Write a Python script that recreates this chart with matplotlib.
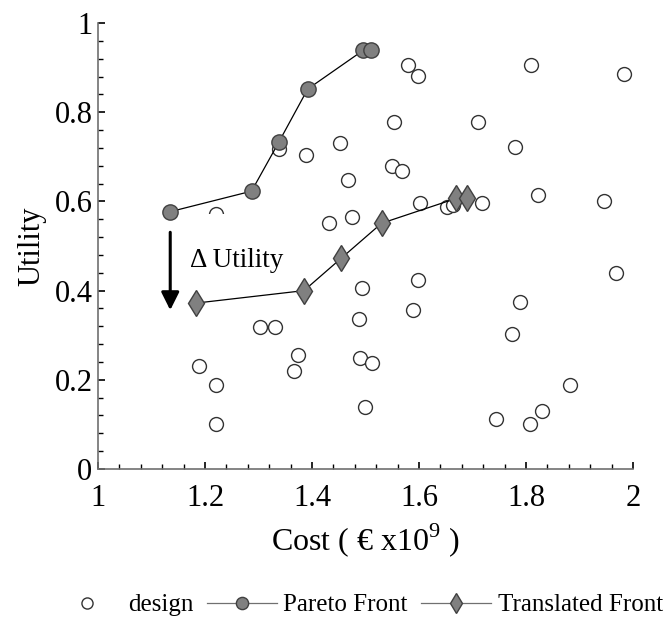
import matplotlib
matplotlib.use('Agg')
from matplotlib import pyplot as plt
from matplotlib.patches import Rectangle
from matplotlib.transforms import Bbox, TransformedBbox

plt.rcParams['font.family'] = ['Liberation Serif', 'DejaVu Serif']
plt.rcParams['mathtext.fontset'] = 'custom'
plt.rcParams['mathtext.rm'] = 'Liberation Serif'

##### DATA
design_cost = [1.221, 1.338, 1.388, 1.452, 1.468, 1.474, 1.432,
               1.579, 1.598, 1.810, 1.984, 1.553, 1.711, 1.779, 1.550, 1.569,
               1.601, 1.652, 1.664, 1.718, 1.823, 1.946,
               1.493, 1.487, 1.303, 1.331, 1.373, 1.366, 1.188, 1.221, 1.221,
               1.490, 1.512, 1.500,
               1.598, 1.588, 1.969, 1.788, 1.773, 1.883, 1.829, 1.807, 1.743]
design_util = [0.571, 0.717, 0.703, 0.732, 0.649, 0.566, 0.551,
               0.905, 0.882, 0.905, 0.885, 0.779, 0.779, 0.721, 0.680, 0.668,
               0.596, 0.588, 0.591, 0.596, 0.615, 0.600,
               0.405, 0.336, 0.318, 0.318, 0.256, 0.219, 0.230, 0.188, 0.100,
               0.249, 0.237, 0.139,
               0.424, 0.356, 0.440, 0.375, 0.302, 0.188, 0.130, 0.100, 0.112]

pareto_cost = [1.135, 1.287, 1.338, 1.392, 1.496, 1.510]
pareto_util = [0.577, 0.623, 0.733, 0.852, 0.939, 0.939]

trans_cost = [1.183, 1.385, 1.455, 1.530, 1.670, 1.690]
trans_util = [0.372, 0.400, 0.473, 0.551, 0.607, 0.607]

x_ticks = [1, 1.2, 1.4, 1.6, 1.8, 2]
x_labels = ['1', '1.2', '1.4', '1.6', '1.8', '2']
y_ticks = [0, 0.2, 0.4, 0.6, 0.8, 1]
y_labels = ['0', '0.2', '0.4', '0.6', '0.8', '1']
#########

fig = plt.figure(figsize=(6.64, 6.19), dpi=100)
ax = fig.add_axes([0.1476, 0.2423, 0.8057, 0.7205])

ax.plot(design_cost, design_util, linestyle='none', marker='o', markersize=10,
        markerfacecolor='white', markeredgecolor='#333333', markeredgewidth=1.0,
        label='design', zorder=2)

# white box behind the delta label (hides part of one design point, clips the label)
box = (1.16, 0.452, 0.18, 0.119)
ax.add_patch(Rectangle(box[:2], box[2], box[3], facecolor='white',
                       edgecolor='none', zorder=3))
txt = ax.text(1.172, 0.452, '\u0394 Utility', fontsize=19.5, va='baseline', ha='left', zorder=4)
txt.set_clip_box(TransformedBbox(Bbox.from_bounds(*box), ax.transData))

ax.annotate('', xy=(1.135, 0.35), xytext=(1.135, 0.537),
            arrowprops=dict(arrowstyle='-|>,head_width=0.54,head_length=1.08',
                            color='black', lw=2.2), zorder=4)

ax.plot(pareto_cost, pareto_util, color='black', linewidth=0.9, marker='o',
        markersize=11, markerfacecolor='#808080', markeredgecolor='#404040',
        markeredgewidth=1.0, label='Pareto Front', zorder=5)
ax.plot(trans_cost, trans_util, color='black', linewidth=0.9, marker='d',
        markersize=13, markerfacecolor='#808080', markeredgecolor='#404040',
        markeredgewidth=1.0, label='Translated Front', zorder=5)

ax.set_xlim(1, 2)
ax.set_ylim(0, 1)
ax.set_xticks(x_ticks)
ax.set_xticklabels(x_labels)
ax.set_yticks(y_ticks)
ax.set_yticklabels(y_labels)
ax.set_xticks([1 + 0.04 * i for i in range(26)], minor=True)
ax.set_yticks([0.04 * i for i in range(26)], minor=True)
ax.tick_params(which='both', direction='in', labelsize=22, color='black')
ax.tick_params(which='major', length=5, width=1.2)
ax.tick_params(which='minor', length=3.5, width=1.0)
ax.tick_params(axis='x', which='major', pad=11)
ax.tick_params(axis='y', which='major', pad=4)

for s in ['top', 'right']:
    ax.spines[s].set_visible(False)
for s in ['left', 'bottom']:
    ax.spines[s].set_color('#707070')
    ax.spines[s].set_linewidth(1.2)

ax.set_xlabel('Cost ( \u20ac x10$^9$ )', fontsize=23, labelpad=6)
ax.set_ylabel('Utility', fontsize=22, labelpad=6)

leg = fig.legend(loc='center', bbox_to_anchor=(0.538, 0.0226), ncol=3, frameon=False,
                 fontsize=18, handlelength=2.8, handletextpad=0.25, columnspacing=0.55,
                 markerscale=0.8)
for h in leg.legend_handles:
    h.set_color('#707070')

fig.savefig('out.png', dpi=100, facecolor='w')
